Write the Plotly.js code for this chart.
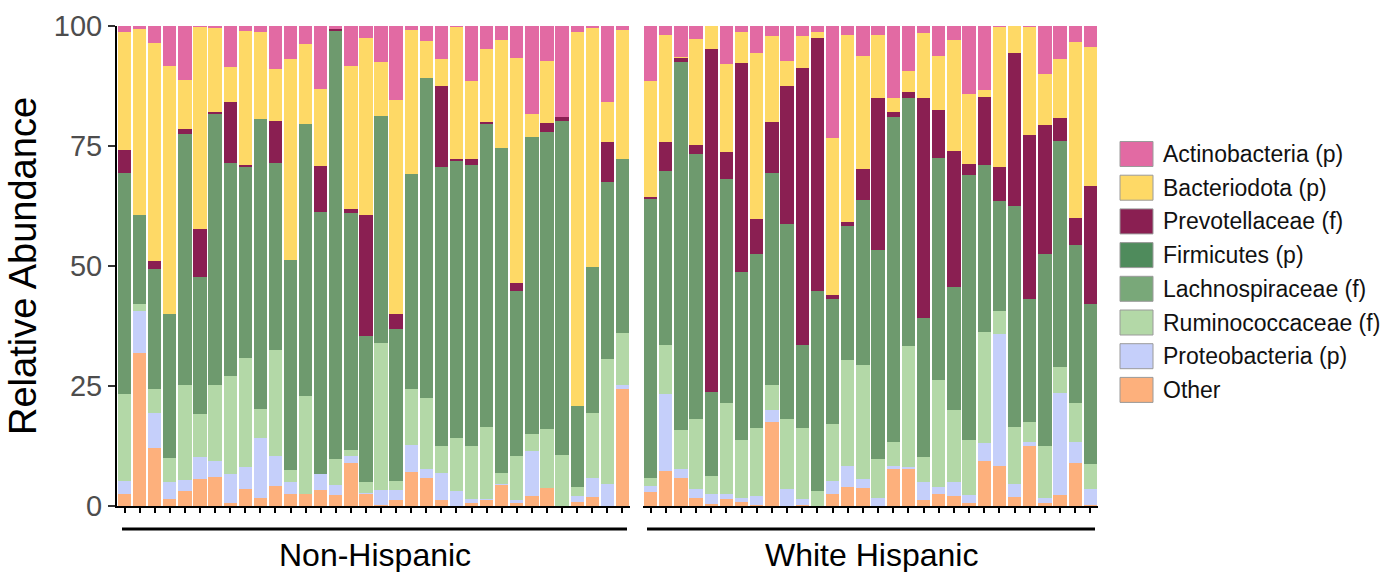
<!DOCTYPE html>
<html>
<head>
<meta charset="utf-8">
<script src="https://cdn.plot.ly/plotly-3.0.1.min.js"></script>
<style>html,body{margin:0;padding:0;background:#fff;}#chart{width:1380px;height:572px;}</style>
</head>
<body>
<div id="chart"></div>
<script>
// ---- Categories (samples) ----
const groupNames = ["Non-Hispanic", "White Hispanic"];
const samplesNH = ["N1","N2","N3","N4","N5","N6","N7","N8","N9","N10","N11","N12","N13","N14","N15","N16","N17","N18","N19","N20","N21","N22","N23","N24","N25","N26","N27","N28","N29","N30","N31","N32","N33","N34"];
const samplesWH = ["W1","W2","W3","W4","W5","W6","W7","W8","W9","W10","W11","W12","W13","W14","W15","W16","W17","W18","W19","W20","W21","W22","W23","W24","W25","W26","W27","W28","W29","W30"];

// ---- Series names (legend order, top to bottom) ----
const seriesNames = ["Actinobacteria (p)","Bacteriodota (p)","Prevotellaceae (f)","Firmicutes (p)","Lachnospiraceae (f)","Ruminococcaceae (f)","Proteobacteria (p)","Other"];

// ---- Non-Hispanic values (%) ----
const actinoNH = [1.3,0.6,3.6,8.3,11.2,0.2,0.5,8.6,1.0,1.3,9.0,6.9,3.8,13.2,0.6,8.3,2.4,7.6,15.4,0.8,3.1,6.9,0.3,11.5,4.7,2.9,6.6,18.4,7.2,19.0,1.3,0.5,15.9,0.8];
const bacterNH = [24.5,38.8,45.3,51.6,10.3,42.0,17.5,7.3,28.0,18.0,10.7,41.9,16.7,15.9,0,29.9,37.0,11.1,44.7,30.1,7.8,5.7,27.5,16.3,15.4,22.6,46.9,4.8,13.1,0,77.9,49.8,8.2,27.0];
const prevoNH  = [4.9,0,1.7,0,0.9,10.0,0.4,12.7,0.4,0,8.9,0,0,9.7,0.4,0.8,25.2,0,3.1,0,0,16.7,0.3,1.2,0.3,0,1.8,0,1.7,0.8,0,0,8.3,0];
const firmNH   = [0,0,0,0,0,0,0,0,0,0,0,0,0,0,0,0,0,0,0,0,0,0,0,0,0,0,0,0,0,0,0,0,0,0];
const lachnoNH = [46.0,18.5,25.0,30.0,52.3,28.6,56.4,44.3,39.8,60.4,38.8,43.7,56.5,54.5,89.2,49.3,30.3,47.4,31.6,44.8,66.7,58.2,57.7,58.5,63.1,67.7,34.3,61.8,62.0,69.6,16.9,30.4,37.0,36.2];
const ruminoNH = [18.1,1.4,5.1,5.0,19.9,8.9,15.8,20.5,22.6,6.1,22.2,2.6,20.4,0,5.4,1.2,2.3,30.6,1.9,11.5,14.7,5.7,11.1,11.0,15.0,2.3,9.1,3.5,12.2,10.6,1.8,13.4,26.0,10.8];
const proteoNH = [2.6,8.9,7.3,3.6,2.3,4.7,3.3,5.9,4.7,12.6,6.2,2.5,0,3.4,2.1,1.6,0.3,3.0,2.0,5.8,1.8,5.5,3.1,0.9,0.2,0.1,0.7,9.4,0,0,1.3,4.0,4.6,0.9];
const otherNH  = [2.6,31.8,12.0,1.5,3.1,5.6,6.1,0.7,3.5,1.6,4.2,2.4,2.6,3.3,2.3,8.9,2.5,0.3,1.3,7.0,5.9,1.3,0,0.6,1.3,4.4,0.6,2.1,3.8,0,0.8,1.9,0,24.3];

// ---- White Hispanic values (%) ----
const actinoWH = [11.4,1.9,6.4,2.7,0,7.9,1.3,5.7,2.0,7.3,2.0,1.3,23.4,1.9,6.2,1.9,14.9,9.4,1.5,6.2,2.9,14.2,13.3,0.3,0.1,0.3,10.1,6.9,3.4,4.3];
const bacterWH = [24.2,22.2,0.3,22.1,4.7,18.3,6.5,34.6,18.1,5.3,6.8,1.3,32.6,39.0,23.5,13.0,3.1,4.3,13.6,11.4,23.1,14.5,1.4,29.0,5.5,22.5,10.5,12.3,36.5,29.0];
const prevoWH  = [0.4,6.2,0.7,1.9,71.5,5.7,43.4,7.1,10.6,28.7,57.7,52.7,0.9,0.7,6.5,31.8,0.9,1.4,45.7,9.8,28.3,2.3,14.3,7.2,32.0,34.1,27.0,4.8,5.7,24.7];
const firmWH   = [0,0,0,0,0,0,0,0,0,0,0,0,0,0,0,0,0,0,0,0,0,0,0,0,0,0,0,0,0,0];
const lachnoWH = [58.1,36.2,76.8,55.2,17.5,46.6,35.0,36.4,44.1,40.6,17.3,41.6,26.1,28.0,34.4,43.6,67.7,51.6,28.9,46.3,25.7,55.2,34.7,22.9,46.0,25.7,39.9,47.0,32.9,33.2];
const ruminoWH = [1.7,10.2,8.0,14.6,3.7,19.1,12.2,14.1,5.2,14.6,14.7,3.1,11.8,22.0,23.8,8.0,5.0,25.1,5.2,22.4,14.9,11.5,23.1,4.8,11.9,4.1,10.9,5.5,8.1,5.3];
const proteoWH = [1.2,16.1,1.9,1.9,2.1,1.0,0.8,1.8,2.4,3.5,1.3,0,2.7,4.4,1.8,1.7,0.6,0.4,3.8,1.3,3.0,1.7,3.8,27.5,2.6,0.9,1.0,21.2,4.5,3.2];
const otherWH  = [3.0,7.2,5.9,1.6,0.5,1.4,0.8,0.3,17.6,0,0.2,0,2.5,4.0,3.8,0,7.8,7.8,1.3,2.6,2.1,0.6,9.4,8.3,1.9,12.4,0.6,2.3,8.9,0.3];

const yTicks = [0, 25, 50, 75, 100];

// ---- Styles ----
const colors = {
  "Actinobacteria (p)": "#e26aa3",
  "Bacteriodota (p)": "#fed966",
  "Prevotellaceae (f)": "#8a1f52",
  "Firmicutes (p)": "#4f8b5c",
  "Lachnospiraceae (f)": "#6e9a6e",
  "Ruminococcaceae (f)": "#b3d8a7",
  "Proteobacteria (p)": "#c5cffa",
  "Other": "#fdb07c"
};
const legendColors = {
  "Lachnospiraceae (f)": "#79a879"
};

const nhData = {
  "Actinobacteria (p)": actinoNH, "Bacteriodota (p)": bacterNH, "Prevotellaceae (f)": prevoNH,
  "Firmicutes (p)": firmNH, "Lachnospiraceae (f)": lachnoNH, "Ruminococcaceae (f)": ruminoNH,
  "Proteobacteria (p)": proteoNH, "Other": otherNH
};
const whData = {
  "Actinobacteria (p)": actinoWH, "Bacteriodota (p)": bacterWH, "Prevotellaceae (f)": prevoWH,
  "Firmicutes (p)": firmWH, "Lachnospiraceae (f)": lachnoWH, "Ruminococcaceae (f)": ruminoWH,
  "Proteobacteria (p)": proteoWH, "Other": otherWH
};

const stackOrder = seriesNames.slice().reverse(); // bottom first
const traces = [];
stackOrder.forEach(name => {
  traces.push({type: "bar", name: name, x: samplesNH, y: nhData[name], xaxis: "x", yaxis: "y",
    marker: {color: colors[name], line: {width: 0}}, showlegend: false, hoverinfo: "skip"});
});
stackOrder.forEach(name => {
  traces.push({type: "bar", name: name, x: samplesWH, y: whData[name], xaxis: "x2", yaxis: "y",
    marker: {color: colors[name], line: {width: 0}}, showlegend: false, hoverinfo: "skip"});
});

const W = 1380, H = 572;
const px = v => v / W;
const py = v => 1 - v / H;
const font = "Liberation Sans, Arial, Helvetica, sans-serif";

const shapes = [];
const annotations = [];

// group underline bars and labels
const groupSpans = [[122, 627], [647, 1095]];
groupSpans.forEach((s, i) => {
  shapes.push({type: "line", xref: "paper", yref: "paper", x0: px(s[0]), x1: px(s[1]), y0: py(529), y1: py(529),
    line: {color: "#000", width: 3}});
  annotations.push({xref: "paper", yref: "paper", x: px((s[0] + s[1]) / 2), y: py(555), text: groupNames[i],
    showarrow: false, xanchor: "center", yanchor: "middle", font: {family: font, size: 32, color: "#000"}});
});

// custom legend
seriesNames.forEach((name, i) => {
  const cy = 154 + i * 33.7;
  shapes.push({type: "rect", xref: "paper", yref: "paper", x0: px(1120), x1: px(1153), y0: py(cy - 12.5), y1: py(cy + 12.5),
    fillcolor: legendColors[name] || colors[name], line: {color: "#9a9a9a", width: 1}});
  annotations.push({xref: "paper", yref: "paper", x: px(1161), y: py(cy), text: name, showarrow: false,
    xanchor: "left", yanchor: "middle", font: {family: font, size: 23, color: "#111"}});
});

const xCommon = {
  type: "category", showticklabels: false, ticks: "outside", ticklen: 5, tickwidth: 2, tickcolor: "#000",
  showline: true, linecolor: "#000", linewidth: 2, showgrid: false, zeroline: false, anchor: "y", fixedrange: true
};

const layout = {
  width: W, height: H,
  margin: {l: 0, r: 0, t: 0, b: 0},
  paper_bgcolor: "#fff", plot_bgcolor: "#fff",
  barmode: "stack", bargap: 0.12,
  showlegend: false,
  xaxis: Object.assign({}, xCommon, {domain: [px(117), px(630)], range: [-0.5, samplesNH.length - 0.5]}),
  xaxis2: Object.assign({}, xCommon, {domain: [px(643), px(1098)], range: [-0.5, samplesWH.length - 0.5]}),
  yaxis: {
    domain: [py(506), py(26)], range: [0, 100], tickvals: yTicks, ticktext: yTicks.map(String),
    ticks: "outside", ticklen: 7, tickwidth: 1.5, tickcolor: "#333",
    showline: true, linecolor: "#000", linewidth: 2, showgrid: false, zeroline: false,
    tickfont: {family: font, size: 29, color: "#4d4d4d"},
    title: {text: "Relative Abundance", font: {family: font, size: 38, color: "#000"}, standoff: 6},
    anchor: "x", automargin: false, fixedrange: true
  },
  shapes: shapes,
  annotations: annotations
};

Plotly.newPlot("chart", traces, layout, {staticPlot: true, displayModeBar: false});
</script>
</body>
</html>
